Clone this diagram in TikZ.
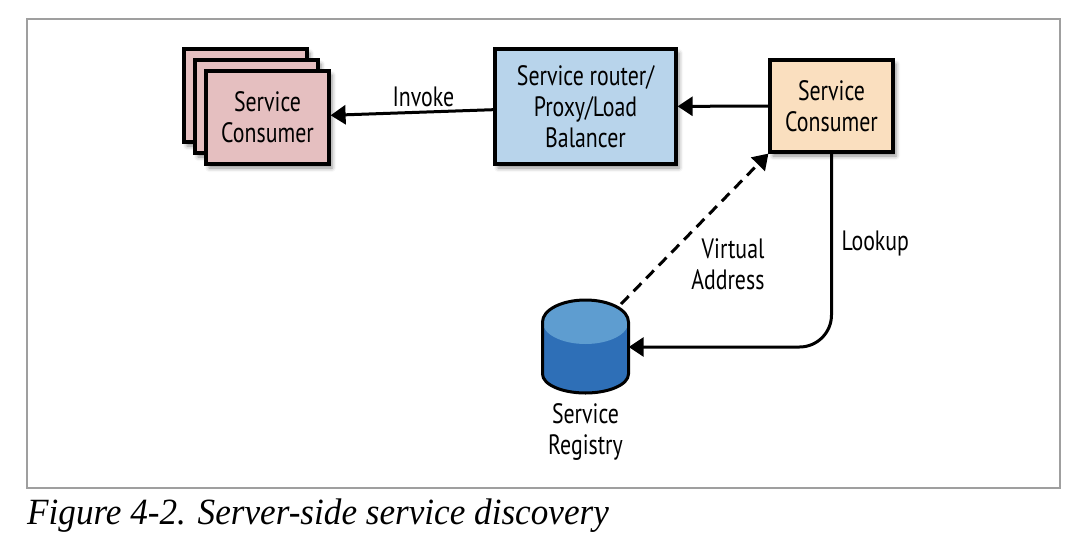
\documentclass[tikz,border=0pt]{standalone}
\usepackage{fontspec}
\usepackage{xcolor}
\usepackage{tikz}
\usetikzlibrary{
	arrows.meta,positioning,shadows.blur
}
\newfontfamily\diagfont[FakeStretch=0.78]{PT Sans}
\newfontfamily\capfont[FakeStretch=0.95]{Liberation Serif}
\definecolor{consred}{HTML}{E5BFC0}
\definecolor{routerblue}{HTML}{B8D4EB}
\definecolor{consorange}{HTML}{FADFBF}
\definecolor{regtop}{HTML}{5E9DD0}
\definecolor{regbody}{HTML}{2E6FB7}
\tikzset{
	box/.style={draw=black,line width=3.2pt,align=center,
		font=\diagfont\fontsize{28}{31}\selectfont,
		blur shadow={shadow xshift=3pt,shadow yshift=-4pt,
			shadow blur radius=4pt,shadow opacity=45}},
	lbl/.style={font=\diagfont\fontsize{28}{31}\selectfont,align=center},
	link/.style={line width=3pt,-{Triangle[length=15pt,width=19pt]}}
}
\begin{document}
\begin{tikzpicture}[x=1pt,y=-1pt]
	\useasboundingbox (0,0) rectangle (1088,552);
	\draw[gray!75,line width=1.4pt] (27,19) rectangle (1060,488);
	%
	\node[box,fill=consred,minimum width=123pt,minimum height=93pt] (cons3) at (245.5,95.5) {};
	\node[box,fill=consred,minimum width=123pt,minimum height=93pt] (cons2) at (256.5,106.5) {};
	\node[box,fill=consred,minimum width=123pt,minimum height=93pt] (cons1) at (267.5,117.5) {Service\\Consumer};
	\node[box,fill=routerblue,minimum width=181pt,minimum height=115pt] (router) at (585.5,106.5) {Service router/\\Proxy/Load\\Balancer};
	\node[box,fill=consorange,minimum width=123pt,minimum height=92pt] (client) at (831.5,106) {Service\\Consumer};
	%
	% registry cylinder
	\node[minimum width=86pt,minimum height=93pt,inner sep=0pt] (reg) at (585.5,347) {};
	\fill[regbody] (542.5,322) rectangle (628.5,374);
	\fill[regbody] (585.5,374) ellipse[x radius=43pt,y radius=19pt];
	\fill[regtop] (585.5,322) ellipse[x radius=43pt,y radius=22pt];
	\draw[line width=3pt] (542.5,322) -- (542.5,374)
		arc[start angle=180,end angle=360,x radius=43pt,y radius=19pt] -- (628.5,322)
		arc[start angle=0,end angle=180,x radius=43pt,y radius=22pt];
	\node[lbl] (reglbl) at (585.5,432) {Service\\Registry};
	%
	\coordinate (regtip) at (621,304);
	\path[link]
	(router) edge node[lbl,pos=0.43,above=0pt]{Invoke} (cons1)
	(client) edge (router);
	\draw[link,rounded corners=32pt] (client.south) |- (reg.east);
	\draw[link,dash pattern=on 11pt off 7pt] (regtip) -- (client.south west);
	\node[lbl,align=right,anchor=east] (vaddr) at (768,264) {Virtual\\Address};
	\node[lbl,anchor=west] (lookup) at (838,243) {Lookup};
	%
	\node[font=\capfont\itshape\fontsize{37}{44}\selectfont,anchor=base west,inner sep=0pt] (caption) at (27,524) {Figure 4-2. Server-side service discovery};
\end{tikzpicture}
\end{document}
